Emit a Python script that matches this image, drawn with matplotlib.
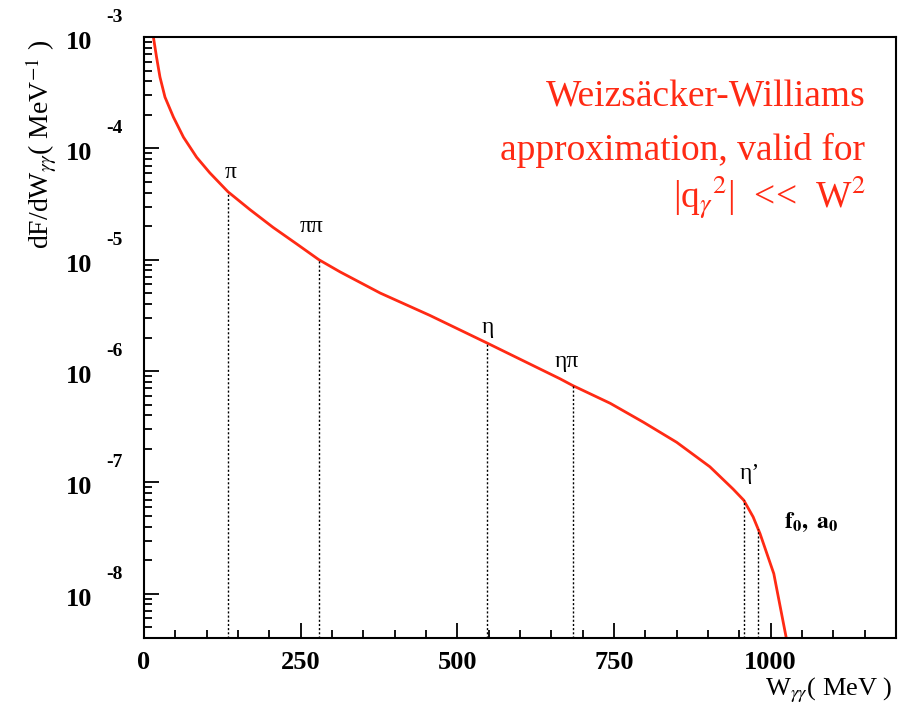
import numpy as np
import matplotlib
matplotlib.use("Agg")
import matplotlib.pyplot as plt
from matplotlib.ticker import MultipleLocator, LogLocator, NullFormatter

plt.rcParams["font.family"] = ["Liberation Serif", "DejaVu Serif"]
plt.rcParams["mathtext.fontset"] = "stix"

# curve: W (MeV), log10(dF/dW)
w_curve = [15, 20, 25.5, 33.5, 47, 63, 84, 105, 134, 169, 206, 244, 279, 313, 377, 456,
           548, 664, 684, 744, 797, 850, 903, 940, 957, 972, 983, 1005, 1025]
logf_curve = [-3.00, -3.18, -3.36, -3.54, -3.72, -3.90, -4.08, -4.22, -4.39, -4.55, -4.71,
              -4.86, -5.00, -5.11, -5.30, -5.50, -5.75, -6.07, -6.13, -6.29, -6.46, -6.64,
              -6.86, -7.06, -7.16, -7.31, -7.46, -7.82, -8.40]

# resonance markers
res_names = ["π", "ππ", "η", "ηπ", "η’", r"$\mathbf{f_0,\ a_0}$"]
res_w = [134, 280, 548, 684, 958, 980]
res_logf = [-4.39, -5.00, -5.75, -6.13, -7.16, -7.42]
# label offsets in points (dx, dy) relative to the marker top
res_off = [(2, 14), (-6, 24), (0, 11), (-4, 17), (4, 19), (38, 5)]

red = "#ff2a14"
ymin, ymax = 4e-9, 1e-3

fig = plt.figure(figsize=(9.09, 7.06), dpi=100)
ax = fig.add_axes([0.1584, 0.0963, 0.8273, 0.8513])

ax.plot(w_curve, 10 ** np.array(logf_curve), color=red, lw=2)

for name, w, lf, off in zip(res_names, res_w, res_logf, res_off):
    ax.vlines(w, ymin, 10 ** lf, colors="black", linestyles=(0, (1.5, 1.5)), lw=1)
    ax.annotate(name, xy=(w, 10 ** lf), xytext=off, textcoords="offset points",
                ha="center", va="center", fontsize=17)

ax.set_yscale("log")
ax.set_xlim(0, 1200)
ax.set_ylim(ymin, ymax)

for s in ax.spines.values():
    s.set_linewidth(1.5)

ax.xaxis.set_major_locator(MultipleLocator(250))
ax.xaxis.set_minor_locator(MultipleLocator(50))
ax.yaxis.set_major_locator(LogLocator(base=10, numticks=20))
ax.yaxis.set_minor_locator(LogLocator(base=10, subs=np.arange(2, 10), numticks=20))
ax.yaxis.set_major_formatter(NullFormatter())
ax.yaxis.set_minor_formatter(NullFormatter())
ax.tick_params(which="major", direction="in", length=11, width=1.3, top=False, right=False)
ax.tick_params(which="minor", direction="in", length=6, width=1.3, top=False, right=False)
ax.tick_params(axis="x", labelsize=19, pad=9)
for lab in ax.get_xticklabels():
    lab.set_fontweight("bold")

# ROOT-style decade labels: "10" with a far-off exponent
for e in range(-8, -2):
    ax.annotate("10", xy=(0, 10.0 ** e), xycoords=("axes fraction", "data"),
                xytext=(-37, -4), textcoords="offset points",
                ha="right", va="center", fontsize=19, fontweight="bold")
    ax.annotate(str(e), xy=(0, 10.0 ** e), xycoords=("axes fraction", "data"),
                xytext=(-27, 14), textcoords="offset points",
                ha="left", va="center", fontsize=14, fontweight="bold")

fig.text(0.982, 0.022, r"W$_{\gamma\gamma}$( MeV )", ha="right", va="center", fontsize=19)
fig.text(0.046, 0.795, r"dF/dW$_{\gamma\gamma}$( MeV$^{-1}$ )", rotation=90,
         ha="center", va="center", fontsize=20)

fig.text(0.952, 0.862, "Weizsäcker-Williams", color=red, ha="right", va="center", fontsize=27)
fig.text(0.952, 0.787, "approximation, valid for", color=red, ha="right", va="center", fontsize=27)
fig.text(0.952, 0.720, r"|q$_{\gamma}$$^{2}$|  <<  W$^{2}$", color=red, ha="right", va="center", fontsize=27)

fig.savefig("out.png", dpi=100)
